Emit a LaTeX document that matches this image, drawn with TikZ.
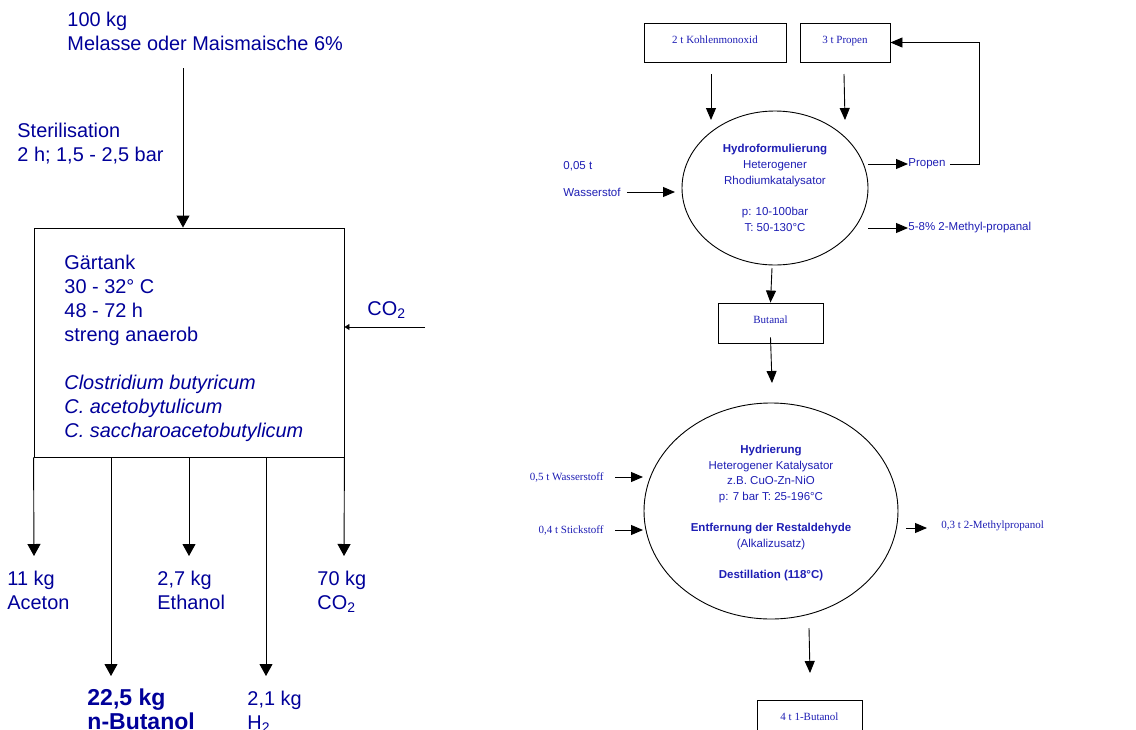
\documentclass[tikz,border=0pt]{standalone}
\usepackage{fontspec}
\setmainfont{Liberation Sans}
\newfontfamily\tnr{Liberation Serif}
\usetikzlibrary{arrows.meta,shapes.geometric}
\definecolor{inkL}{RGB}{0,0,153}
\definecolor{inkR}{RGB}{30,30,180}

\begin{document}
\begin{tikzpicture}[x=1pt,y=-1pt,
  line width=0.9pt,
  big/.style={font=\fontsize{19.9}{24}\selectfont, text=inkL, inner sep=0pt, align=left, anchor=north west},
  bigbold/.style={font=\fontsize{23}{24}\selectfont\bfseries, text=inkL, inner sep=0pt, align=left, anchor=north west},
  small/.style={font=\fontsize{11.5}{15.7}\selectfont, text=inkR, inner sep=0pt},
  smallserif/.style={font=\tnr\fontsize{11}{13}\selectfont, text=inkR, inner sep=0pt},
  box/.style={draw, rectangle, inner sep=0pt, font=\tnr\fontsize{11}{13}\selectfont, text=inkR, text height=8pt, text depth=7pt},
  reactor/.style={draw, ellipse, inner sep=0pt},
  arrL/.style={-{Triangle[length=12pt,width=13pt]}},
  arrR/.style={-{Triangle[length=12pt,width=10pt]}},
  arrS/.style={-{Triangle[length=5pt,width=6pt]}},
]
\useasboundingbox (0,0) rectangle (1136,729);

% ---------- fermentation route ----------
\node[big] (feed) at (67,12) {100 kg\\Melasse oder Maismaische 6\%};
\node[big] (steril) at (17,123) {Sterilisation\\2 h; 1,5 - 2,5 bar};

\node[draw, rectangle, minimum width=310pt, minimum height=229pt, inner sep=0pt] (tank) at (189,342.5) {};
\node[big] (tanktext) at (64,255) {G\"artank\\30 - 32° C\\48 - 72 h\\streng anaerob\\[23.5pt]
  \itshape Clostridium butyricum\\\itshape C. acetobytulicum\\\itshape C. saccharoacetobutylicum};

\coordinate (feedstart) at (183,68);
\draw[arrL] (feedstart) -- (feedstart |- tank.north);

\coordinate (co2start) at (425,327);
\draw[arrS] (co2start) -- (co2start -| tank.east);
\node[big] (co2in) at (367,301) {CO\textsubscript{2}};

% outlets
\coordinate (eA) at (34,556);
\coordinate (eB) at (111,676);
\coordinate (eC) at (189,556);
\coordinate (eD) at (266,676);
\coordinate (eE) at (344,556);
\draw[arrL] (tank.south west) -- (eA);
\draw[arrL] (tank.south -| eB) -- (eB);
\draw[arrL] (tank.south) -- (eC);
\draw[arrL] (tank.south -| eD) -- (eD);
\draw[arrL] (tank.south east) -- (eE);

\node[big] (aceton) at (7,571) {11 kg\\Aceton};
\node[big] (ethanol) at (157,571) {2,7 kg\\Ethanol};
\node[big] (co2out) at (317,571) {70 kg\\CO\textsubscript{2}};
\node[bigbold] (butanolA) at (87,688) {22,5 kg\\n-Butanol};
\node[big] (h2) at (247,691) {2,1 kg\\H\textsubscript{2}};

% ---------- oxo synthesis route ----------
\node[box, minimum width=142pt, minimum height=39pt] (co) at (715,42.5) {2 t Kohlenmonoxid};
\node[box, minimum width=90pt, minimum height=39pt] (prop) at (845,42.5) {3 t Propen};

\node[reactor, minimum width=186pt, minimum height=154pt] (hf) at (775,188) {};
\node[small, align=center] (hftext) at (775,188)
  {\textbf{Hydroformulierung}\\Heterogener\\Rhodiumkatalysator\\[15.7pt]p: 10-100bar\\T: 50-130°C};

\coordinate (coA) at (711,74);
\coordinate (coB) at (711,120);
\coordinate (prA) at (844,74);
\coordinate (prB) at (845,120);
\draw[arrR] (coA) -- (coB);
\draw[arrR] (prA) -- (prB);

\node[small, anchor=west] (h2amt) at (563,166) {0,05 t};
\node[small, anchor=west] (h2in) at (563,192) {Wasserstof};
\coordinate (hfW) at (675,192);
\draw[arrR] ([xshift=6pt]h2in.east) -- (hfW);

\coordinate (recA) at (868,164);
\node[small, anchor=west] (recprop) at (908,164) {Propen};
\draw[arrR] (recA) -- (recprop.west);
\coordinate (recB) at (979,164);
\draw[arrR] ([xshift=4pt]recprop.east) -- (recB) |- (prop.east);

\coordinate (isoA) at (868,228);
\node[small, anchor=west] (iso) at (908,228) {5-8\% 2-Methyl-propanal};
\draw[arrR] (isoA) -- (iso.west);

\node[box, minimum width=105pt, minimum height=40pt] (butanal) at (770.5,323) {Butanal};
\coordinate (hfS) at (772,268);
\draw[arrR] (hfS) -- (butanal.north);
\coordinate (hyN) at (772,383);
\draw[arrR] ([yshift=6pt]butanal.south) -- (hyN);

\node[reactor, minimum width=254pt, minimum height=216pt] (hy) at (771,511) {};
\node[small, align=center] (hytext) at (771,513)
  {\textbf{Hydrierung}\\Heterogener Katalysator\\z.B. CuO-Zn-NiO\\p: 7 bar T: 25-196°C\\[15.5pt]
   \textbf{Entfernung der Restaldehyde}\\(Alkalizusatz)\\[15.5pt]\textbf{Destillation (118°C)}};

\node[smallserif, anchor=east] (h2b) at (604,477) {0,5 t Wasserstoff};
\node[smallserif, anchor=east] (n2) at (604,530) {0,4 t Stickstoff};
\coordinate (hyW1) at (643,477);
\coordinate (hyW2) at (643,530);
\draw[arrR] ([xshift=11pt]h2b.east) -- (hyW1);
\draw[arrR] ([xshift=11pt]n2.east) -- (hyW2);

\coordinate (mpA) at (906,528);
\node[smallserif, anchor=west] (mp) at (941,526) {0,3 t 2-Methylpropanol};
\coordinate (mpB) at (927,528);
\draw[arrR] (mpA) -- (mpB);

\node[box, minimum width=105pt, minimum height=40pt] (butanolB) at (809.5,720) {4 t 1-Butanol};
\coordinate (hyS) at (809,628);
\coordinate (prodN) at (810,673);
\draw[arrR] (hyS) -- (prodN);
\end{tikzpicture}
\end{document}
